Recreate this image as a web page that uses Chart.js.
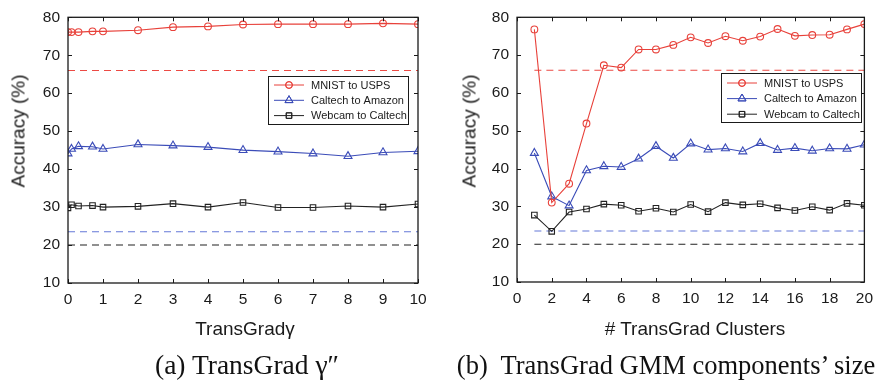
<!DOCTYPE html>
<html>
<head>
<meta charset="utf-8">
<script src="https://cdn.jsdelivr.net/npm/chart.js@4.4.1/dist/chart.umd.min.js"></script>
<style>
  html, body { margin: 0; padding: 0; background: #fff; }
  #wrap { position: relative; width: 880px; height: 384px; overflow: hidden; }
  canvas { position: absolute; top: 0; }
  .lbl { position: absolute; white-space: pre; color: #1a1a1a; font-family: "Liberation Sans", Arial, sans-serif; }
  .xt { font-size: 19px; line-height: 19px; transform: translateX(-50%); }
  .yt { font-size: 19px; line-height: 19px; transform: translate(-50%, -50%) rotate(-90deg); }
  .cap { font-family: "Liberation Serif", "Times New Roman", serif; font-size: 26.5px; line-height: 26px; transform: translateX(-50%); color: #111; }
</style>
</head>
<body>
<div id="wrap">
  <canvas id="c1" width="440" height="384" style="left:0px"></canvas>
  <canvas id="c2" width="440" height="384" style="left:440px"></canvas>
  <div class="lbl yt" style="left:18px; top:131px;">Accuracy (%)</div>
  <div class="lbl yt" style="left:469px; top:131px;">Accuracy (%)</div>
  <div class="lbl xt" style="left:245px; top:319px;">TransGradγ</div>
  <div class="lbl xt" style="left:695px; top:319px;"># TransGrad Clusters</div>
  <div class="lbl cap" style="left:247px; top:352px; font-size:27.5px;">(a) TransGrad γ″</div>
  <div class="lbl cap" style="left:666px; top:352px;">(b)  TransGrad GMM components’ size</div>
</div>
<script>
// ---------- data ----------
const seriesNames = ['MNIST to USPS', 'Caltech to Amazon', 'Webcam to Caltech'];
const yTicks = [10, 20, 30, 40, 50, 60, 70, 80];

const gammaX = [0, 0.1, 0.3, 0.7, 1, 2, 3, 4, 5, 6, 7, 8, 9, 10];
const gammaMnist = [76.1, 76.1, 76.1, 76.3, 76.3, 76.6, 77.4, 77.6, 78.1, 78.2, 78.2, 78.2, 78.4, 78.2];
const gammaCaltech = [44.1, 45.3, 46.0, 45.9, 45.3, 46.5, 46.2, 45.8, 45.0, 44.6, 44.1, 43.4, 44.4, 44.7];
const gammaWebcam = [29.8, 30.6, 30.3, 30.4, 30.0, 30.2, 30.9, 30.0, 31.2, 29.9, 29.9, 30.3, 30.0, 30.8];
const gammaXTicks = [0, 1, 2, 3, 4, 5, 6, 7, 8, 9, 10];

const clusterX = [1, 2, 3, 4, 5, 6, 7, 8, 9, 10, 11, 12, 13, 14, 15, 16, 17, 18, 19, 20];
const clusterMnist = [76.8, 31.0, 36.0, 51.9, 67.3, 66.7, 71.5, 71.5, 72.7, 74.7, 73.2, 75.0, 73.8, 74.9, 76.9, 75.1, 75.3, 75.4, 76.8, 78.2];
const clusterCaltech = [44.1, 32.6, 30.2, 39.5, 40.6, 40.4, 42.6, 45.9, 42.8, 46.6, 45.0, 45.3, 44.5, 46.7, 44.9, 45.4, 44.7, 45.3, 45.2, 46.3];
const clusterWebcam = [27.7, 23.4, 28.5, 29.3, 30.6, 30.3, 28.7, 29.5, 28.5, 30.5, 28.6, 31.0, 30.4, 30.7, 29.6, 28.9, 29.9, 29.0, 30.8, 30.3];
const clusterXTicks = [0, 2, 4, 6, 8, 10, 12, 14, 16, 18, 20];

// baseline (dashed) accuracies: MNIST, Caltech, Webcam
const baselines = [66, 23.5, 20];

// ---------- styles ----------
const RED = '#e8413a', BLUE = '#3b4cb8', BLACK = '#222222';
const RED_D = '#ec4a44', BLUE_D = '#6478d8', BLACK_D = '#222222';
const styles = [
  { color: RED, dash: RED_D, pointStyle: 'circle', radius: 3.4 },
  { color: BLUE, dash: BLUE_D, pointStyle: 'triangle', radius: 4.6 },
  { color: BLACK, dash: BLACK_D, pointStyle: 'rect', radius: 3.9 }
];

function zip(xs, ys) { return xs.map((x, i) => ({ x: x, y: ys[i] })); }

function makeDatasets(xs, ys3) {
  const ds = [];
  ys3.forEach((ys, k) => {
    ds.push({
      label: seriesNames[k], data: zip(xs, ys), showLegend: true,
      borderColor: styles[k].color, backgroundColor: 'rgba(0,0,0,0)',
      borderWidth: 1.1, pointStyle: styles[k].pointStyle, pointRadius: styles[k].radius,
      pointBorderColor: styles[k].color, pointBackgroundColor: 'rgba(0,0,0,0)',
      pointBorderWidth: 1.1, pointHoverRadius: styles[k].radius, tension: 0
    });
  });
  const x0 = xs[0], x1 = xs[xs.length - 1];
  baselines.forEach((b, k) => {
    ds.push({
      label: seriesNames[k] + ' baseline', data: [{ x: x0, y: b }, { x: x1, y: b }],
      showLegend: false, borderColor: styles[k].dash, borderWidth: 1.1,
      borderDash: [7, 5], pointRadius: 0, tension: 0
    });
  });
  return ds;
}

// frame + inward ticks
const framePlugin = {
  id: 'frame',
  afterDraw(chart) {
    const { ctx, chartArea: a, scales } = chart;
    ctx.save();
    ctx.strokeStyle = '#1a1a1a';
    ctx.lineWidth = 1.3;
    ctx.strokeRect(a.left, a.top, a.right - a.left, a.bottom - a.top);
    ctx.lineWidth = 1;
    const tl = 4;
    ctx.beginPath();
    scales.x.ticks.forEach(t => {
      const px = Math.round(scales.x.getPixelForValue(t.value)) + 0.5;
      ctx.moveTo(px, a.bottom); ctx.lineTo(px, a.bottom - tl);
      ctx.moveTo(px, a.top); ctx.lineTo(px, a.top + tl);
    });
    scales.y.ticks.forEach(t => {
      const py = Math.round(scales.y.getPixelForValue(t.value)) + 0.5;
      ctx.moveTo(a.left, py); ctx.lineTo(a.left + tl, py);
      ctx.moveTo(a.right, py); ctx.lineTo(a.right - tl, py);
    });
    ctx.stroke();
    ctx.restore();
  }
};

// boxed legend with line + marker samples
const boxLegendPlugin = {
  id: 'boxLegend',
  afterDraw(chart, args, opts) {
    const { ctx } = chart;
    const bx = opts.x, by = opts.y, bw = opts.w, bh = opts.h;
    ctx.save();
    ctx.fillStyle = '#fff';
    ctx.fillRect(bx, by, bw, bh);
    ctx.strokeStyle = '#1a1a1a';
    ctx.lineWidth = 1;
    ctx.strokeRect(bx + 0.5, by + 0.5, bw, bh);
    ctx.font = '11px "Liberation Sans", Arial, sans-serif';
    ctx.textBaseline = 'middle';
    const items = chart.data.datasets.filter(d => d.showLegend);
    items.forEach((d, i) => {
      const cy = by + opts.rowStart + i * opts.rowGap;
      ctx.strokeStyle = d.borderColor;
      ctx.lineWidth = 1;
      ctx.beginPath();
      ctx.moveTo(bx + 6, cy); ctx.lineTo(bx + 36, cy);
      ctx.stroke();
      ctx.fillStyle = 'rgba(0,0,0,0)';
      Chart.helpers.drawPoint(ctx, { pointStyle: d.pointStyle, radius: d.pointRadius, borderWidth: 1, rotation: 0 }, bx + 21, cy);
      ctx.stroke();
      ctx.fillStyle = '#1a1a1a';
      ctx.fillText(d.label, bx + 43, cy + 0.5);
    });
    ctx.restore();
  }
};

function makeChart(id, xs, ys3, xTicks, xmin, xmax, area, legend) {
  const W = 440, H = 384;
  return new Chart(document.getElementById(id), {
    type: 'line',
    data: { datasets: makeDatasets(xs, ys3) },
    options: {
      responsive: false, animation: false, devicePixelRatio: 1,
      layout: { padding: { left: 0, right: W - area.right, top: area.top, bottom: 0 } },
      plugins: { legend: { display: false }, tooltip: { enabled: false }, boxLegend: legend },
      scales: {
        x: {
          type: 'linear', min: xmin, max: xmax,
          afterFit(s) { s.height = H - area.bottom; },
          afterBuildTicks(s) { s.ticks = xTicks.map(v => ({ value: v })); },
          grid: { display: false, drawTicks: false }, border: { display: false },
          ticks: { color: '#1a1a1a', padding: 7, maxRotation: 0, autoSkip: false,
                   font: { family: '"Liberation Sans", Arial, sans-serif', size: 15.5 } }
        },
        y: {
          type: 'linear', min: yTicks[0], max: yTicks[yTicks.length - 1],
          afterFit(s) { s.width = area.left; },
          afterBuildTicks(s) { s.ticks = yTicks.map(v => ({ value: v })); },
          grid: { display: false, drawTicks: false }, border: { display: false },
          ticks: { color: '#1a1a1a', padding: 8,
                   font: { family: '"Liberation Sans", Arial, sans-serif', size: 15.5 } }
        }
      }
    },
    plugins: [framePlugin, boxLegendPlugin]
  });
}

makeChart('c1', gammaX, [gammaMnist, gammaCaltech, gammaWebcam], gammaXTicks, 0, 10,
  { left: 68, right: 418, top: 12, bottom: 283 },
  { x: 268, y: 76, w: 140, h: 48, rowStart: 9, rowGap: 15.3 });
makeChart('c2', clusterX, [clusterMnist, clusterCaltech, clusterWebcam], clusterXTicks, 0, 20,
  { left: 77, right: 427, top: 11, bottom: 282 },
  { x: 281, y: 73, w: 140, h: 49, rowStart: 10, rowGap: 15.6 });
</script>
</body>
</html>
